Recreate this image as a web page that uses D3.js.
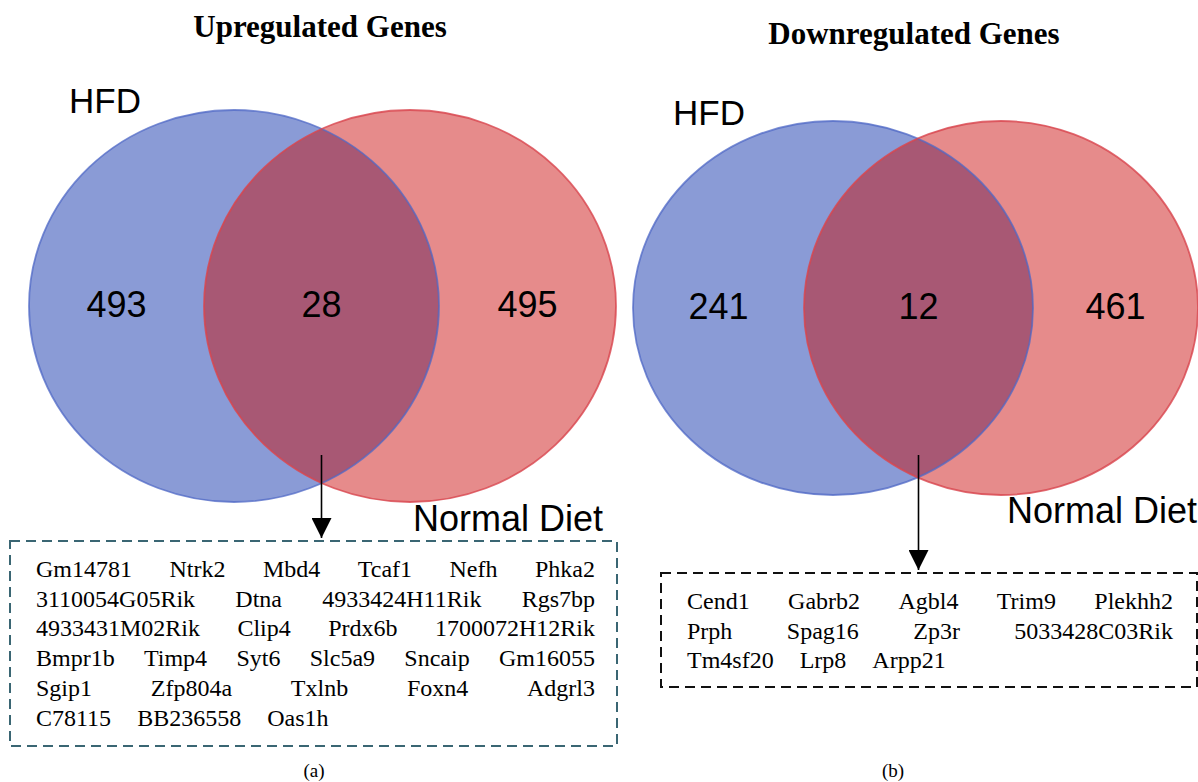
<!DOCTYPE html>
<html>
<head>
<meta charset="utf-8">
<script src="https://cdn.jsdelivr.net/npm/d3@7"></script>
<style>
  body { margin: 0; background: #fff; }
  svg { display: block; }
</style>
</head>
<body>
<div id="figure"></div>
<script>
// data
const setNames = ["HFD", "Normal Diet"];
const panelTitles = ["Upregulated Genes", "Downregulated Genes"];
const panelTags = ["(a)", "(b)"];
// counts: [HFD only, both, Normal Diet only]
const upCounts = [493, 28, 495];
const downCounts = [241, 12, 461];
const upGenes = [
  ["Gm14781", "Ntrk2", "Mbd4", "Tcaf1", "Nefh", "Phka2"],
  ["3110054G05Rik", "Dtna", "4933424H11Rik", "Rgs7bp"],
  ["4933431M02Rik", "Clip4", "Prdx6b", "1700072H12Rik"],
  ["Bmpr1b", "Timp4", "Syt6", "Slc5a9", "Sncaip", "Gm16055"],
  ["Sgip1", "Zfp804a", "Txlnb", "Foxn4", "Adgrl3"],
  ["C78115", "BB236558", "Oas1h"]
];
const downGenes = [
  ["Cend1", "Gabrb2", "Agbl4", "Trim9", "Plekhh2"],
  ["Prph", "Spag16", "Zp3r", "5033428C03Rik"],
  ["Tm4sf20", "Lrp8", "Arpp21"]
];

const width = 1198, height = 782;
const svg = d3.select("#figure").append("svg")
  .attr("width", width)
  .attr("height", height);

const sansFont = "'Liberation Sans', Arial, Helvetica, sans-serif";
const serifFont = "'Liberation Serif', 'Times New Roman', serif";

// layout for each panel (pixels)
const panels = [
  {
    title: panelTitles[0], titleX: 320, titleY: 37,
    counts: upCounts, genes: upGenes, tag: panelTags[0], tagX: 314,
    cy: 306, ry: 196,
    blue: {cx: 234, rx: 205}, red: {cx: 410, rx: 206},
    hfd: [69, 113], normal: [413, 531],
    box: {x0: 10, x1: 617, y0: 541, y1: 746, color: "#3a6673"},
    text: {x0: 36, x1: 595, y: 577}
  },
  {
    title: panelTitles[1], titleX: 914, titleY: 44,
    counts: downCounts, genes: downGenes, tag: panelTags[1], tagX: 893,
    cy: 308, ry: 187,
    blue: {cx: 833, rx: 200}, red: {cx: 1001, rx: 197},
    hfd: [673, 125], normal: [1007, 523],
    box: {x0: 661, x1: 1197, y0: 573, y1: 687, color: "#111"},
    text: {x0: 687, x1: 1173, y: 609}
  }
];

const defs = svg.append("defs");
defs.append("marker")
  .attr("id", "arrowHead")
  .attr("viewBox", "0 0 10 10")
  .attr("refX", 10).attr("refY", 5)
  .attr("markerUnits", "userSpaceOnUse")
  .attr("markerWidth", 20).attr("markerHeight", 20)
  .attr("orient", "auto")
  .append("path")
    .attr("d", "M0,0 L10,5 L0,10 Z")
    .attr("fill", "#000");

panels.forEach((p, i) => {
  const g = svg.append("g");

  g.append("text")
    .attr("x", p.titleX).attr("y", p.titleY)
    .attr("text-anchor", "middle")
    .style("font-family", serifFont)
    .style("font-weight", "bold")
    .style("font-size", "31px")
    .text(p.title);

  // venn ellipses
  const clipId = "blueClip" + i;
  defs.append("clipPath").attr("id", clipId)
    .append("ellipse")
      .attr("cx", p.blue.cx).attr("cy", p.cy)
      .attr("rx", p.blue.rx).attr("ry", p.ry);

  g.append("ellipse")
    .attr("cx", p.blue.cx).attr("cy", p.cy)
    .attr("rx", p.blue.rx).attr("ry", p.ry)
    .attr("fill", "#8a9bd6");
  g.append("ellipse")
    .attr("cx", p.red.cx).attr("cy", p.cy)
    .attr("rx", p.red.rx).attr("ry", p.ry)
    .attr("fill", "#e68b8b");
  g.append("ellipse")
    .attr("cx", p.red.cx).attr("cy", p.cy)
    .attr("rx", p.red.rx).attr("ry", p.ry)
    .attr("clip-path", `url(#${clipId})`)
    .attr("fill", "#a85874");
  g.append("ellipse")
    .attr("cx", p.blue.cx).attr("cy", p.cy)
    .attr("rx", p.blue.rx).attr("ry", p.ry)
    .attr("fill", "none")
    .attr("stroke", "#4f68c6").attr("stroke-opacity", 0.75)
    .attr("stroke-width", 1.8);
  g.append("ellipse")
    .attr("cx", p.red.cx).attr("cy", p.cy)
    .attr("rx", p.red.rx).attr("ry", p.ry)
    .attr("fill", "none")
    .attr("stroke", "#d8454d").attr("stroke-opacity", 0.8)
    .attr("stroke-width", 1.8);

  // region centres from the ellipse edges
  const blueL = p.blue.cx - p.blue.rx, blueR = p.blue.cx + p.blue.rx;
  const redL = p.red.cx - p.red.rx, redR = p.red.cx + p.red.rx;
  const regionX = [(blueL + redL) / 2, (redL + blueR) / 2, (blueR + redR) / 2];

  g.selectAll(".count")
    .data(p.counts)
    .enter().append("text")
    .attr("class", "count")
    .attr("x", (d, j) => regionX[j])
    .attr("y", p.cy + 11)
    .attr("text-anchor", "middle")
    .style("font-family", sansFont)
    .style("font-size", "36px")
    .text(d => d);

  g.append("text")
    .attr("x", p.hfd[0]).attr("y", p.hfd[1])
    .style("font-family", sansFont).style("font-size", "35px")
    .text(setNames[0]);
  g.append("text")
    .attr("x", p.normal[0]).attr("y", p.normal[1])
    .style("font-family", sansFont).style("font-size", "36px")
    .text(setNames[1]);

  // arrow from the overlap down to the gene box
  g.append("line")
    .attr("x1", regionX[1]).attr("x2", regionX[1])
    .attr("y1", 455).attr("y2", p.box.y0 - 3)
    .attr("stroke", "#000").attr("stroke-width", 1.6)
    .attr("marker-end", "url(#arrowHead)");

  // dashed box
  g.append("rect")
    .attr("x", p.box.x0).attr("y", p.box.y0)
    .attr("width", p.box.x1 - p.box.x0)
    .attr("height", p.box.y1 - p.box.y0)
    .attr("fill", "none")
    .attr("stroke", p.box.color)
    .attr("stroke-width", 2)
    .attr("stroke-dasharray", "10,6");

  // justified gene rows
  p.genes.forEach((row, r) => {
    const y = p.text.y + r * 29.7;
    const words = g.selectAll(null)
      .data(row)
      .enter().append("text")
      .attr("y", y)
      .style("font-family", serifFont)
      .style("font-size", "24px")
      .text(d => d);
    const widths = words.nodes().map(n => n.getComputedTextLength());
    const total = d3.sum(widths);
    const last = r === p.genes.length - 1;
    const gap = last ? 26 : (p.text.x1 - p.text.x0 - total) / (row.length - 1);
    let x = p.text.x0;
    words.each(function (d, j) {
      d3.select(this).attr("x", x);
      x += widths[j] + gap;
    });
  });

  g.append("text")
    .attr("x", p.tagX).attr("y", 777)
    .attr("text-anchor", "middle")
    .style("font-family", serifFont)
    .style("font-size", "19px")
    .text(p.tag);
});
</script>
</body>
</html>
